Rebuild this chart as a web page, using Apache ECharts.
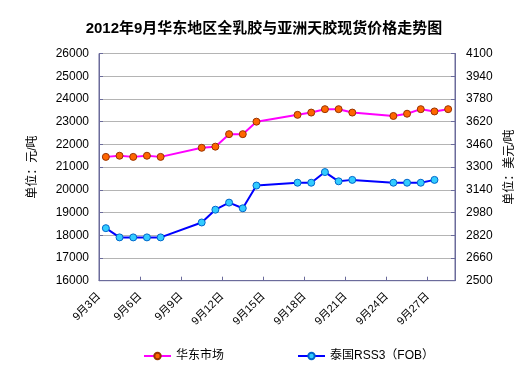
<!DOCTYPE html>
<html>
<head>
<meta charset="utf-8">
<script src="https://cdn.jsdelivr.net/npm/echarts@6/dist/echarts.min.js"></script>
<style>html,body{margin:0;padding:0;background:#fff;}#c{width:528px;height:383px;}</style>
</head>
<body>
<div id="c"></div>
<script>
// Every calendar day shown on the x axis (one band per day)
var dates = ['9月3日','9月4日','9月5日','9月6日','9月7日','9月8日','9月9日','9月10日','9月11日','9月12日','9月13日','9月14日','9月15日','9月16日','9月17日','9月18日','9月19日','9月20日','9月21日','9月22日','9月23日','9月24日','9月25日','9月26日','9月27日','9月28日'];
// Tick labels (every third day)
var tickLabels = ['9月3日','9月6日','9月9日','9月12日','9月15日','9月18日','9月21日','9月24日','9月27日'];
// 华东市场 全乳胶, 元/吨 (null = no quote that day)
var eastChina = [21450,21500,21450,21500,21450,null,null,21850,21900,22450,22450,23000,null,null,23300,23400,23550,23550,23400,null,null,23250,23350,23550,23450,23550];
// 泰国RSS3 (FOB), 美元/吨
var rss3 = [2870,2805,2805,2805,2805,null,null,2910,3000,3050,3010,3170,null,null,3190,3190,3265,3200,3210,null,null,3190,3190,3190,3210,null];
// Axis ranges / ticks
var leftMin = 16000, leftMax = 26000, leftStep = 1000;
var rightMin = 2500, rightMax = 4100;

var axisColor = '#6B6B9B';
var font = '"Liberation Sans","Noto Sans CJK SC",sans-serif';
function plain(v) { return String(Math.round(v)); }
var chart = echarts.init(document.getElementById('c'), null, {renderer:'canvas'});
chart.setOption({
  animation: false,
  backgroundColor: '#fff',
  textStyle: {fontFamily: font, color: '#000'},
  title: {
    text: '2012年9月华东地区全乳胶与亚洲天胶现货价格走势图',
    left: 'center', top: 16,
    textStyle: {fontSize: 15, fontWeight: 'bold', color: '#000', fontFamily: font}
  },
  grid: {left: 99, right: 73, top: 53.5, bottom: 102.3, show: true, borderColor: axisColor, borderWidth: 1, backgroundColor: 'transparent'},
  legend: {
    left: 138, top: 345, itemWidth: 27, itemHeight: 8, itemGap: 73,
    textStyle: {fontSize: 12, color: '#000', fontFamily: font},
    data: ['华东市场','泰国RSS3（FOB）']
  },
  xAxis: [
    {type: 'category', data: dates, boundaryGap: true,
     axisLine: {show: true, lineStyle: {color: axisColor}},
     axisTick: {show: false}, axisLabel: {show: false}, splitLine: {show: false}},
    {type: 'value', min: 0, max: dates.length, interval: 3, position: 'bottom',
     axisLine: {show: false},
     axisTick: {show: true, inside: true, length: 4, lineStyle: {color: axisColor}},
     axisLabel: {rotate: 45, margin: 14, fontSize: 11, color: '#000', fontFamily: font, showMaxLabel: false,
       formatter: function (v) { return tickLabels[Math.round(v / 3)] || ''; }},
     splitLine: {show: false}}
  ],
  yAxis: [
    {type: 'value', min: leftMin, max: leftMax, interval: leftStep, position: 'left',
     name: '单位：元/吨', nameLocation: 'middle', nameRotate: 90, nameGap: 60,
     nameTextStyle: {fontSize: 12, color: '#000', fontFamily: font},
     axisLine: {show: true, lineStyle: {color: axisColor}},
     axisTick: {show: true, inside: true, length: 4, lineStyle: {color: axisColor}},
     axisLabel: {fontSize: 12, color: '#000', margin: 10, fontFamily: font, formatter: plain},
     splitLine: {show: true, lineStyle: {color: '#B4B4B4', width: 1}}},
    {type: 'value', min: rightMin, max: rightMax, alignTicks: true, position: 'right',
     name: '单位：美元/吨', nameLocation: 'middle', nameRotate: 90, nameGap: 49,
     nameTextStyle: {fontSize: 12, color: '#000', fontFamily: font},
     axisLine: {show: true, lineStyle: {color: axisColor}},
     axisTick: {show: true, inside: true, length: 4, lineStyle: {color: axisColor}},
     axisLabel: {fontSize: 12, color: '#000', margin: 11, fontFamily: font, formatter: plain},
     splitLine: {show: false}}
  ],
  series: [
    {name: '华东市场', type: 'line', xAxisIndex: 0, yAxisIndex: 0, data: eastChina, connectNulls: true,
     symbol: 'circle', symbolSize: 7, showAllSymbol: true,
     lineStyle: {color: '#FF00FF', width: 2},
     itemStyle: {color: '#FF6600', borderColor: '#993300', borderWidth: 1}},
    {name: '泰国RSS3（FOB）', type: 'line', xAxisIndex: 0, yAxisIndex: 1, data: rss3, connectNulls: true,
     symbol: 'circle', symbolSize: 7, showAllSymbol: true,
     lineStyle: {color: '#0000FF', width: 2},
     itemStyle: {color: '#33CCFF', borderColor: '#0066CC', borderWidth: 1}}
  ]
});
</script>
</body>
</html>
